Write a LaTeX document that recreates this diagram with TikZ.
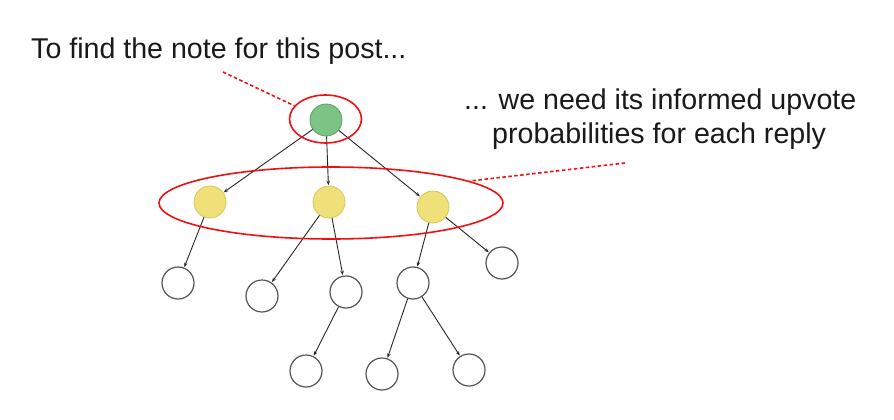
\documentclass[tikz,border=0pt]{standalone}
\usepackage{fontspec}
\setmainfont{Liberation Sans}
\usetikzlibrary{arrows.meta,shapes.geometric}
\definecolor{gfill}{HTML}{7DC383}
\definecolor{gdraw}{HTML}{5E9E63}
\definecolor{yfill}{HTML}{EFE07A}
\definecolor{ydraw}{HTML}{D6C65A}
\definecolor{cdraw}{HTML}{555555}
\definecolor{hred}{HTML}{F01010}
\tikzset{
  post/.style={circle,minimum size=32pt,inner sep=0pt,fill=gfill,draw=gdraw,line width=0.8pt},
  reply/.style={circle,minimum size=32pt,inner sep=0pt,fill=yfill,draw=ydraw,line width=0.8pt},
  leaf/.style={circle,minimum size=32pt,inner sep=0pt,fill=white,draw=cdraw,line width=1.2pt},
  edge/.style={draw=black!85,line width=0.9pt,-{Stealth[length=4.5pt,width=3.5pt]},shorten >=0.5pt},
  ring/.style={ellipse,draw=hred,line width=1.6pt,inner sep=0pt},
  pointer/.style={draw=hred,line width=1.6pt,dash pattern=on 3.5pt off 2.5pt},
  lbl/.style={font=\fontsize{28.6pt}{34pt}\selectfont,inner sep=0pt,text=black!90}
}
\begin{document}
\begin{tikzpicture}[x=1pt,y=-1pt]
\useasboundingbox (0,0) rectangle (894,420);
% labels
\node[lbl,anchor=base west] (t1) at (31,59) {To find the note for this post...};
\node[lbl,anchor=base west] (t2) at (464,109) {... we need its informed upvote};
\node[lbl,anchor=base west] (t3) at (492,143) {probabilities for each reply};
% nodes
\node[post]  (root) at (326,120) {};
\node[reply] (a) at (210,202) {};
\node[reply] (b) at (329,202) {};
\node[reply] (c) at (433,207) {};
\node[leaf] (l1) at (178,283) {};
\node[leaf] (l2) at (262,296) {};
\node[leaf] (l3) at (346,292) {};
\node[leaf] (l4) at (413,283) {};
\node[leaf] (l5) at (502,263) {};
\node[leaf] (m1) at (306,371) {};
\node[leaf] (m2) at (382,374) {};
\node[leaf] (m3) at (469,370) {};
% edges
\draw[edge] (root) -- (a);
\draw[edge] (root) -- (b);
\draw[edge] (root) -- (c);
\draw[edge] (a) -- (l1);
\draw[edge] (b) -- (l2);
\draw[edge] (b) -- (l3);
\draw[edge] (c) -- (l4);
\draw[edge] (c) -- (l5);
\draw[edge] (l3) -- (m1);
\draw[edge] (l4) -- (m2);
\draw[edge] (l4) -- (m3);
% highlight rings
\node[ring,minimum width=72pt,minimum height=48pt] (ring1) at (325.5,119) {};
\node[ring,minimum width=344pt,minimum height=72pt] (ring2) at (331,203) {};
% pointers
\coordinate (p1) at (223,72);
\coordinate (p2) at (625,163);
\draw[pointer] (p1) -- (ring1.157);
\draw[pointer] (p2) -- (ring2.9);
\end{tikzpicture}
\end{document}
